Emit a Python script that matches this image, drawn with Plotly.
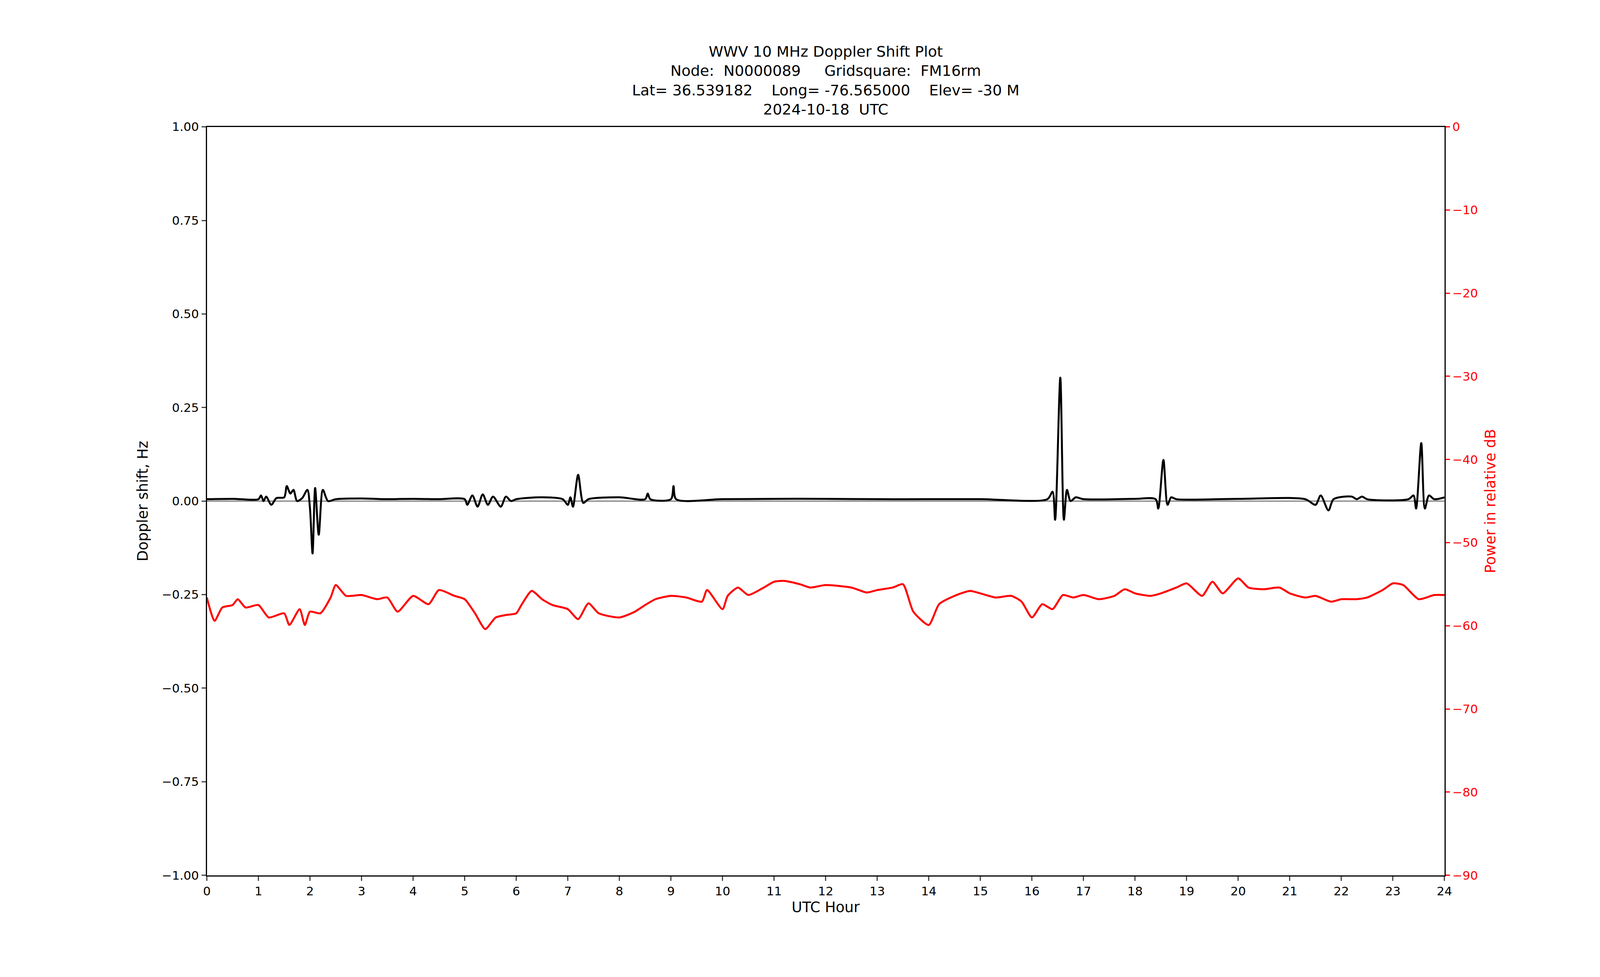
import plotly.graph_objects as go

# Doppler shift (Hz) key points, UTC hour
dop_hours = [0, 0.5, 1.0, 1.05, 1.1, 1.15, 1.25, 1.35, 1.5, 1.55, 1.62, 1.68, 1.75, 1.85, 1.95, 2.0,
             2.05, 2.1, 2.17, 2.25, 2.35, 2.5, 3.0, 3.5, 4.0, 4.5, 5.0, 5.05, 5.15, 5.25, 5.35, 5.45,
             5.55, 5.7, 5.8, 5.9, 6.0, 6.5, 6.9, 7.0, 7.05, 7.1, 7.2, 7.3, 7.4, 8.0, 8.5, 8.55, 8.6,
             9.0, 9.05, 9.1, 10.0, 11.0, 12.0, 13.0, 14.0, 15.0, 16.3, 16.4, 16.45, 16.55, 16.62,
             16.68, 16.75, 16.85, 17.0, 18.0, 18.4, 18.45, 18.55, 18.63, 18.7, 18.8, 20.0, 21.3,
             21.5, 21.6, 21.75, 21.85, 22.2, 22.3, 22.4, 22.5, 23.3, 23.4, 23.45, 23.55, 23.62,
             23.7, 23.8, 24.0]
dop_hz = [0.005, 0.006, 0.005, 0.015, 0.0, 0.012, -0.01, 0.008, 0.01, 0.04, 0.02, 0.03, 0.0, 0.008,
          0.03, -0.02, -0.14, 0.035, -0.09, 0.03, 0.0, 0.005, 0.007, 0.005, 0.006, 0.005, 0.005,
          -0.01, 0.015, -0.015, 0.018, -0.01, 0.012, -0.015, 0.012, 0.0, 0.005, 0.01, 0.005, -0.01,
          0.01, -0.015, 0.07, -0.005, 0.005, 0.01, 0.005, 0.02, 0.005, 0.005, 0.04, 0.005, 0.005,
          0.006, 0.006, 0.005, 0.005, 0.005, 0.005, 0.025, -0.05, 0.33, -0.05, 0.03, 0.0, 0.01,
          0.005, 0.006, 0.005, -0.02, 0.11, -0.01, 0.01, 0.005, 0.006, 0.005, -0.01, 0.015,
          -0.025, 0.005, 0.012, 0.005, 0.012, 0.005, 0.005, 0.015, -0.02, 0.155, -0.02, 0.015,
          0.005, 0.01]

# Received power (relative dB)
pwr_hours = [0, 0.15, 0.3, 0.5, 0.6, 0.75, 1.0, 1.2, 1.5, 1.6, 1.8, 1.9, 2.0, 2.2, 2.4, 2.5, 2.7,
             3.0, 3.3, 3.5, 3.7, 4.0, 4.3, 4.5, 4.8, 5.0, 5.2, 5.4, 5.6, 5.8, 6.0, 6.1, 6.3, 6.5,
             6.7, 7.0, 7.2, 7.4, 7.6, 8.0, 8.3, 8.5, 8.7, 9.0, 9.3, 9.6, 9.7, 10.0, 10.1, 10.3,
             10.5, 10.8, 11.0, 11.2, 11.5, 11.7, 12.0, 12.5, 12.8, 13.0, 13.3, 13.5, 13.7, 14.0,
             14.2, 14.5, 14.8, 15.0, 15.3, 15.6, 15.8, 16.0, 16.2, 16.4, 16.6, 16.8, 17.0, 17.3,
             17.6, 17.8, 18.0, 18.3, 18.5, 18.8, 19.0, 19.3, 19.5, 19.7, 20.0, 20.2, 20.5, 20.8,
             21.0, 21.3, 21.5, 21.8, 22.0, 22.3, 22.5, 22.8, 23.0, 23.2, 23.5, 23.8, 24.0]
pwr_db = [-56.6, -59.4, -57.8, -57.5, -56.8, -57.8, -57.5, -59.0, -58.5, -59.9, -58.0, -59.9,
          -58.3, -58.5, -56.6, -55.1, -56.4, -56.3, -56.8, -56.6, -58.3, -56.4, -57.4, -55.7,
          -56.4, -56.8, -58.5, -60.4, -59.0, -58.7, -58.5, -57.5, -55.8, -56.8, -57.5, -58.0,
          -59.2, -57.3, -58.5, -59.0, -58.3, -57.5, -56.8, -56.4, -56.6, -57.1, -55.7, -58.0,
          -56.4, -55.4, -56.3, -55.4, -54.7, -54.6, -55.0, -55.4, -55.1, -55.4, -56.0, -55.7,
          -55.4, -55.0, -58.3, -59.9, -57.4, -56.4, -55.8, -56.1, -56.6, -56.4, -57.1, -59.0,
          -57.4, -58.0, -56.3, -56.6, -56.3, -56.8, -56.4, -55.6, -56.1, -56.4, -56.1, -55.4,
          -54.9, -56.4, -54.7, -56.1, -54.3, -55.4, -55.6, -55.4, -56.1, -56.6, -56.4, -57.1,
          -56.8, -56.8, -56.6, -55.7, -54.9, -55.1, -56.8, -56.3, -56.3]

title_lines = ["WWV 10 MHz Doppler Shift Plot",
               "Node:  N0000089     Gridsquare:  FM16rm",
               "Lat= 36.539182    Long= -76.565000    Elev= -30 M",
               "2024-10-18  UTC"]

FONT = "DejaVu Sans"

fig = go.Figure()
fig.add_trace(go.Scatter(x=[0, 24], y=[0, 0], mode="lines",
                         line=dict(color="#808080", width=3), hoverinfo="skip"))
fig.add_trace(go.Scatter(x=dop_hours, y=dop_hz, mode="lines",
                         line=dict(color="black", width=5, shape="spline", smoothing=0.8)))
fig.add_trace(go.Scatter(x=pwr_hours, y=pwr_db, mode="lines", yaxis="y2",
                         line=dict(color="red", width=5, shape="spline", smoothing=0.6)))

fig.update_layout(
    autosize=True, showlegend=False,
    paper_bgcolor="white", plot_bgcolor="white",
    font=dict(family=FONT, size=31, color="black"),
    margin=dict(l=0, r=0, t=0, b=0),
    xaxis=dict(domain=[0.1263, 0.9086], range=[0, 24], tickmode="linear", tick0=0, dtick=1,
               showgrid=False, zeroline=False, showline=True, linecolor="black", linewidth=3,
               mirror=True, ticks="outside", ticklen=11, tickwidth=3,
               title=dict(text="UTC Hour", standoff=12)),
    yaxis=dict(domain=[0.1016, 0.8788], range=[-1, 1], tickmode="linear", tick0=-1, dtick=0.25,
               tickformat=".2f", showgrid=False, zeroline=False, showline=True, linecolor="black",
               linewidth=3, ticks="outside", ticklen=11, tickwidth=3,
               title=dict(text="Doppler shift, Hz", standoff=25)),
    yaxis2=dict(overlaying="y", side="right", anchor="x", range=[-90, 0], tickmode="linear",
                tick0=-90, dtick=10, showgrid=False, zeroline=False, showline=True,
                linecolor="black", linewidth=3, ticks="outside", ticklen=11, tickwidth=3,
                tickcolor="red", tickfont=dict(color="red"),
                title=dict(text="Power in relative dB", font=dict(color="red"), standoff=20)),
    annotations=[dict(text="<br>".join(title_lines), xref="paper", yref="paper",
                      x=0.5175, y=0.887, xanchor="center", yanchor="bottom", showarrow=False,
                      font=dict(family=FONT, size=38), align="center")],
)

fig.write_html("out.html", default_width="100%", default_height="100vh")
